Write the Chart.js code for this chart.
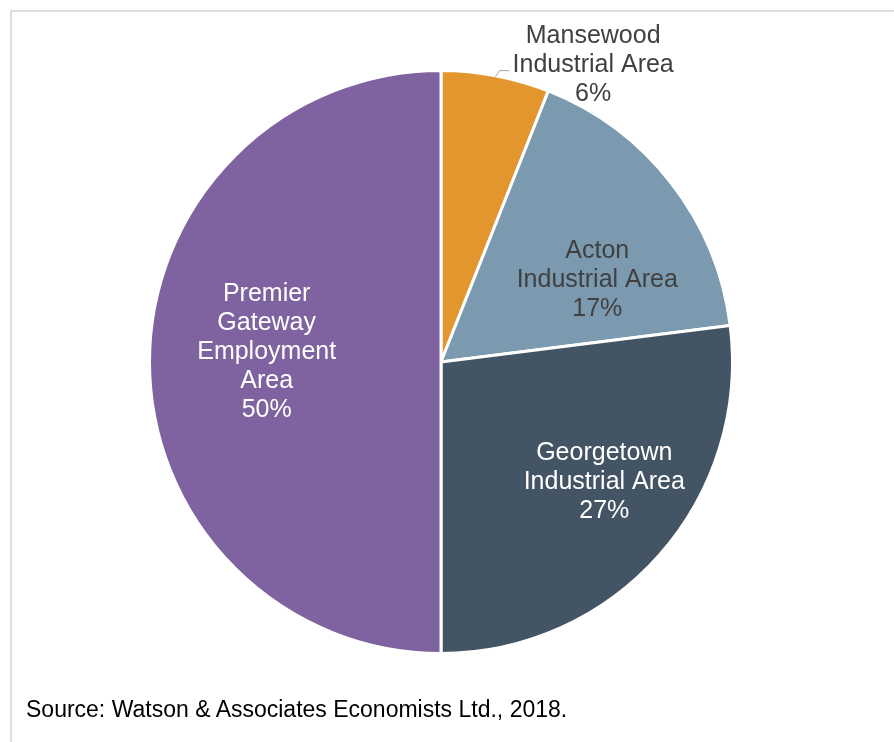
<!DOCTYPE html>
<html>
<head>
<meta charset="utf-8">
<title>Employment Areas</title>
<script src="https://cdn.jsdelivr.net/npm/chart.js@4.4.1/dist/chart.umd.min.js"></script>
<style>
    html, body {
        margin: 0;
        padding: 0;
        background: #ffffff;
    }
    #wrap {
        position: relative;
        width: 894px;
        height: 742px;
        overflow: hidden;
    }
    #frame {
        position: absolute;
        left: 10px;
        top: 10px;
        right: -10px;
        bottom: -10px;
        border-top: 2px solid #dedede;
        border-left: 2px solid #dedede;
    }
    #chartAreas {
        position: absolute;
        left: 0;
        top: 0;
    }
    #source {
        position: absolute;
        left: 26px;
        top: 696px;
        font-family: Arial, "Liberation Sans", sans-serif;
        font-size: 23px;
        color: #000000;
        white-space: nowrap;
    }
</style>
</head>
<body>
<div id="wrap">
    <div id="frame"></div>
    <canvas id="chartAreas" width="894" height="742"></canvas>
    <div id="source">Source: Watson &amp; Associates Economists Ltd., 2018.</div>
</div>
<script>
var areaNames = [
    ['Mansewood', 'Industrial Area'],
    ['Acton', 'Industrial Area'],
    ['Georgetown', 'Industrial Area'],
    ['Premier', 'Gateway', 'Employment', 'Area']
];
var areaShares = [6, 17, 27, 50];
var areaColors = ['#e3962e', '#7b9aaf', '#435465', '#7f63a0'];
var labelColors = ['#404040', '#404040', '#ffffff', '#ffffff'];

// label centres, in units of the pie radius from its centre
var labelOffsets = [
    [0.522, -1.018],
    [0.536, -0.282],
    [0.560, 0.412],
    [-0.598, -0.034]
];

var sliceLabels = {
    id: 'sliceLabels',
    afterDraw: function (chart) {
        var ctx = chart.ctx;
        var arcs = chart.getDatasetMeta(0).data;
        var lineHeight = 29;
        ctx.save();
        ctx.font = '25px Arial, "Liberation Sans", sans-serif';
        ctx.textAlign = 'center';
        ctx.textBaseline = 'middle';
        arcs.forEach(function (arc, i) {
            var r = arc.outerRadius;
            var cx = arc.x + labelOffsets[i][0] * r;
            var cy = arc.y + labelOffsets[i][1] * r;
            var lines = areaNames[i].concat([areaShares[i] + '%']);
            var y0 = cy - (lines.length - 1) * lineHeight / 2;
            ctx.fillStyle = labelColors[i];
            lines.forEach(function (text, k) {
                ctx.fillText(text, cx, y0 + k * lineHeight);
            });

            // leader line for the label that sits outside the pie
            if (labelOffsets[i][0] * labelOffsets[i][0] + labelOffsets[i][1] * labelOffsets[i][1] > 1) {
                var mid = (arc.startAngle + arc.endAngle) / 2;
                var sx = arc.x + Math.cos(mid) * (r - 1);
                var sy = arc.y + Math.sin(mid) * (r - 1);
                ctx.strokeStyle = '#a6a6a6';
                ctx.lineWidth = 1;
                ctx.beginPath();
                ctx.moveTo(sx, sy);
                ctx.lineTo(sx + 4, sy - 6);
                ctx.lineTo(sx + 14, sy - 6);
                ctx.stroke();
            }
        });
        ctx.restore();
    }
};

var ctx = document.getElementById('chartAreas').getContext('2d');
var myChart = new Chart(ctx, {
    type: 'pie',
    data: {
        labels: areaNames.map(function (n) { return n.join(' '); }),
        datasets: [{
            data: areaShares,
            backgroundColor: areaColors,
            borderColor: '#ffffff',
            borderWidth: 3
        }]
    },
    options: {
        responsive: false,
        devicePixelRatio: 1,
        animation: false,
        layout: {
            padding: { left: 148, top: 69, right: 160, bottom: 87 }
        },
        plugins: {
            legend: { display: false },
            tooltip: { enabled: false }
        }
    },
    plugins: [sliceLabels]
});
</script>
</body>
</html>
